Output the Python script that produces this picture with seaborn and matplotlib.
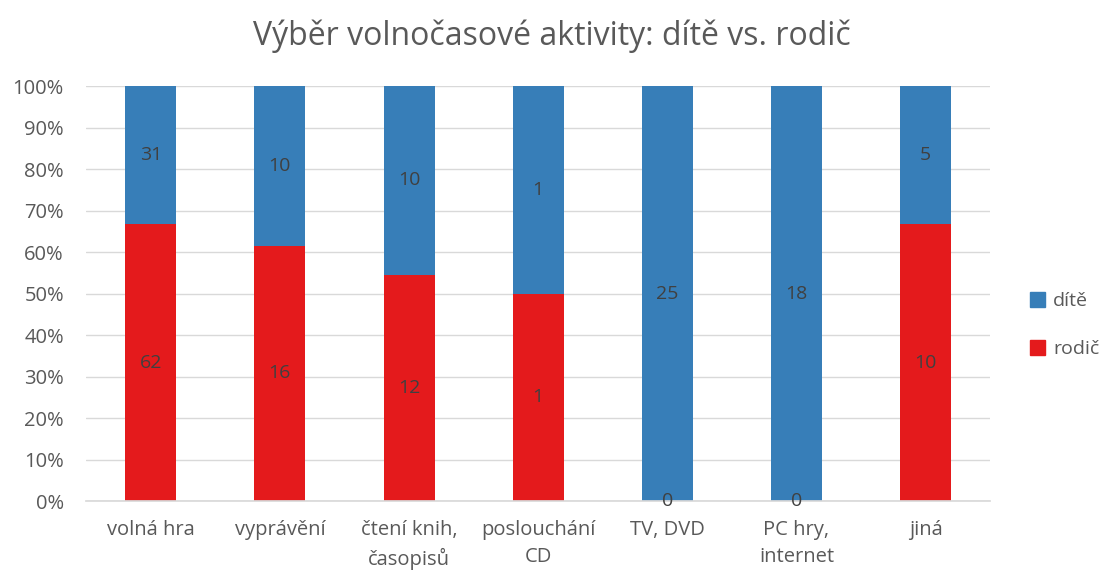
import matplotlib.pyplot as plt
import pandas as pd
import seaborn as sns
from matplotlib.patches import Patch
from matplotlib.ticker import PercentFormatter

# ── Dados ────────────────────────────────────────────────
categories = ["volná hra", "vyprávění", "čtení knih,\nčasopisů", "poslouchání\nCD",
              "TV, DVD", "PC hry,\ninternet", "jiná"]
dite = [31, 10, 10, 1, 25, 18, 5]
rodic = [62, 16, 12, 1, 0, 0, 10]
series_names = ["dítě", "rodič"]

BLUE = "#377EB8"
RED = "#E41A1C"
TEXT = "#595959"
LABEL = "#404040"

df = pd.DataFrame({"kategorie": categories, "dite": dite, "rodic": rodic})
df["total"] = df["dite"] + df["rodic"]
df["pct_rodic"] = df["rodic"] / df["total"] * 100
df["pct_total"] = 100.0

sns.set_theme(style="white")
plt.rcParams["font.family"] = ["Open Sans", "DejaVu Sans"]

fig = plt.figure(figsize=(11.04, 5.70), dpi=100)
ax = fig.add_axes([0.078, 0.121, 0.819, 0.728])

# barra completa (dítě) e por cima a parte do rodič
sns.barplot(data=df, x="kategorie", y="pct_total", color=BLUE, width=0.395,
            saturation=1, linewidth=0, ax=ax, zorder=2)
sns.barplot(data=df, x="kategorie", y="pct_rodic", color=RED, width=0.395,
            saturation=1, linewidth=0, ax=ax, zorder=3)

# rótulos dos valores no centro de cada segmento
for i, row in df.iterrows():
    ax.text(i, row["pct_rodic"] / 2, f"{row['rodic']}", ha="center", va="center",
            fontsize=14, color=LABEL, zorder=5)
    mid = row["pct_rodic"] + (100 - row["pct_rodic"]) / 2
    ax.text(i, mid, f"{row['dite']}", ha="center", va="center",
            fontsize=14, color=LABEL, zorder=5)

ax.set_ylim(0, 100)
ax.set_xlim(-0.5, len(categories) - 0.5)
ax.set_yticks(range(0, 101, 10))
ax.yaxis.set_major_formatter(PercentFormatter(decimals=0))
ax.grid(axis="y", color="#D9D9D9", linewidth=1, zorder=0)
ax.set_axisbelow(True)
for side in ["left", "right", "top"]:
    ax.spines[side].set_visible(False)
ax.spines["bottom"].set_color("#D9D9D9")
ax.spines["bottom"].set_zorder(4)
ax.tick_params(axis="both", length=0, labelsize=14.5, labelcolor=TEXT)
ax.tick_params(axis="y", pad=16)
ax.tick_params(axis="x", pad=14)
for lbl in ax.get_xticklabels():
    lbl.set_linespacing(1.45)
ax.set_xlabel("")
ax.set_ylabel("")

fig.suptitle("Výběr volnočasové aktivity: dítě vs. rodič", fontsize=23,
             color=TEXT, y=0.965)

handles = [Patch(color=BLUE, label=series_names[0]),
           Patch(color=RED, label=series_names[1])]
fig.legend(handles=handles, loc="center left", bbox_to_anchor=(0.917, 0.43),
           frameon=False, fontsize=14, labelcolor=TEXT, handlelength=0.8,
           handleheight=0.8, handletextpad=0.4, labelspacing=1.55)

plt.savefig("out.png", dpi=100)
